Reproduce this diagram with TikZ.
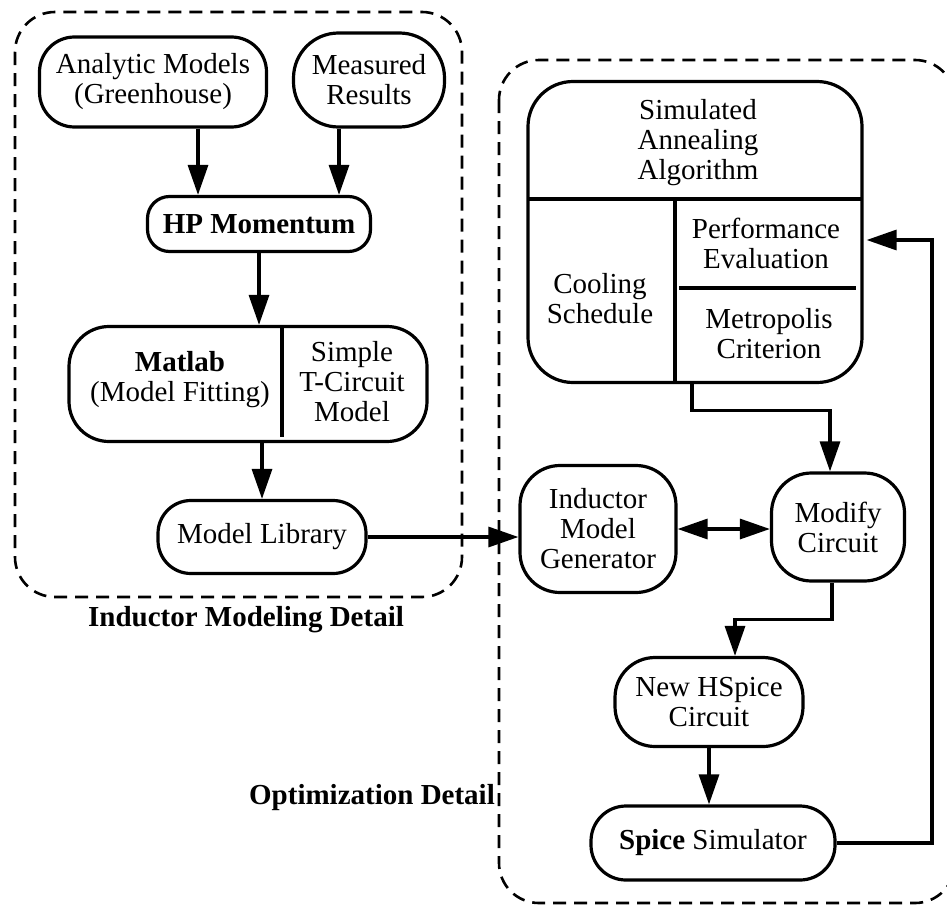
\documentclass[tikz,border=0pt]{standalone}
\usepackage{fontspec}
\setmainfont{Liberation Serif}
\usetikzlibrary{arrows.meta}
\begin{document}
\begin{tikzpicture}[x=1pt,y=-1pt,
  txt/.style={font=\fontsize{29}{30}\selectfont},
  box/.style={draw,line width=3.2pt,align=center,inner sep=0pt,txt},
  lbl/.style={align=center,inner sep=0pt,txt},
  bl/.style={align=center,inner sep=0pt,font=\bfseries\fontsize{29}{30}\selectfont},
  divider/.style={line width=3.2pt},
  conn/.style={line width=3.2pt,-{Triangle[length=30pt,width=20pt]}},
  dconn/.style={line width=3.2pt,{Triangle[length=30pt,width=20pt]}-{Triangle[length=30pt,width=20pt]}},
  region/.style={draw,line width=2.6pt,dash pattern=on 13pt off 8pt,rounded corners=40pt}]
\useasboundingbox (0,0) rectangle (947,918);
\clip (0,0) rectangle (947,918);

% regions
\draw[region] (15,12) rectangle (462,597);
\draw[region] (499,60) rectangle (955,903);
\node[bl] (indlbl) at (246,620) {Inductor Modeling Detail};
\node[bl] (optlbl) at (372,798) {Optimization Detail};

% left side
\node[box,rounded corners=35pt,minimum width=227pt,minimum height=90pt] (analytic) at (153,82) {Analytic Models\\(Greenhouse)};
\node[box,rounded corners=45pt,minimum width=151pt,minimum height=94pt] (measured) at (369,80) {Measured\\Results};
\node[box,rounded corners=22pt,minimum width=223pt,minimum height=55pt] (hp) at (259,224) {\bfseries HP Momentum};
\node[box,rounded corners=40pt,minimum width=358pt,minimum height=115pt] (matlab) at (248,384) {};
\draw[divider] (282,327) -- (282,437);
\node[lbl] (matlabtxt) at (180,380) {\bfseries Matlab\\(Model Fitting)};
\node[lbl] (tcirc) at (352,382) {Simple\\T-Circuit\\Model};
\node[box,rounded corners=33pt,minimum width=208pt,minimum height=73pt] (lib) at (262,537) {Model Library};

% right side
\node[box,rounded corners=45pt,minimum width=334pt,minimum height=301pt] (sa) at (695,232) {};
\draw[divider] (528,199) -- (862,199);
\draw[divider] (675,199) -- (675,383);
\draw[divider] (679,288) -- (856,288);
\node[lbl] (satxt) at (698,143) {Simulated\\Annealing\\Algorithm};
\node[lbl] (cool) at (600,299) {Cooling\\Schedule};
\node[lbl] (perf) at (766,243) {Performance\\Evaluation};
\node[lbl] (metro) at (769,334) {Metropolis\\Criterion};

\node[box,rounded corners=40pt,minimum width=156pt,minimum height=127pt] (ind) at (598,529) {Inductor\\Model\\Generator};
\node[box,rounded corners=40pt,minimum width=133pt,minimum height=108pt] (mod) at (838,527) {Modify\\Circuit};
\node[box,rounded corners=40pt,minimum width=188pt,minimum height=89pt] (hs) at (709,702) {New HSpice\\Circuit};
\node[box,rounded corners=35pt,minimum width=244pt,minimum height=74pt] (spice) at (713,843) {\textbf{Spice} Simulator};
\coordinate (rc) at (932,240);

% connectors
\draw[conn] ([xshift=45pt]analytic.south) -- ([xshift=-61pt]hp.north);
\draw[conn] ([xshift=-30pt]measured.south) -- ([xshift=80pt]hp.north);
\draw[conn] (hp.south) -- (hp.south |- matlab.north);
\draw[conn] (lib.north |- matlab.south) -- (lib.north);
\draw[conn] (lib.east) -- (lib.east -| ind.west);
\draw[dconn] (ind.east) -- (ind.east -| mod.west);
\draw[conn] ([xshift=-3pt]sa.south) -- ++(0,26) -| ([xshift=-8pt]mod.north);
\draw[conn] ([xshift=-6pt]mod.south) -- ++(0,37) -| ([xshift=26pt]hs.north);
\draw[conn] (hs.south) -- (hs.south |- spice.north);
\draw[conn] (spice.east) -| (rc) -- ([xshift=3pt]sa.east |- rc);
\end{tikzpicture}
\end{document}
